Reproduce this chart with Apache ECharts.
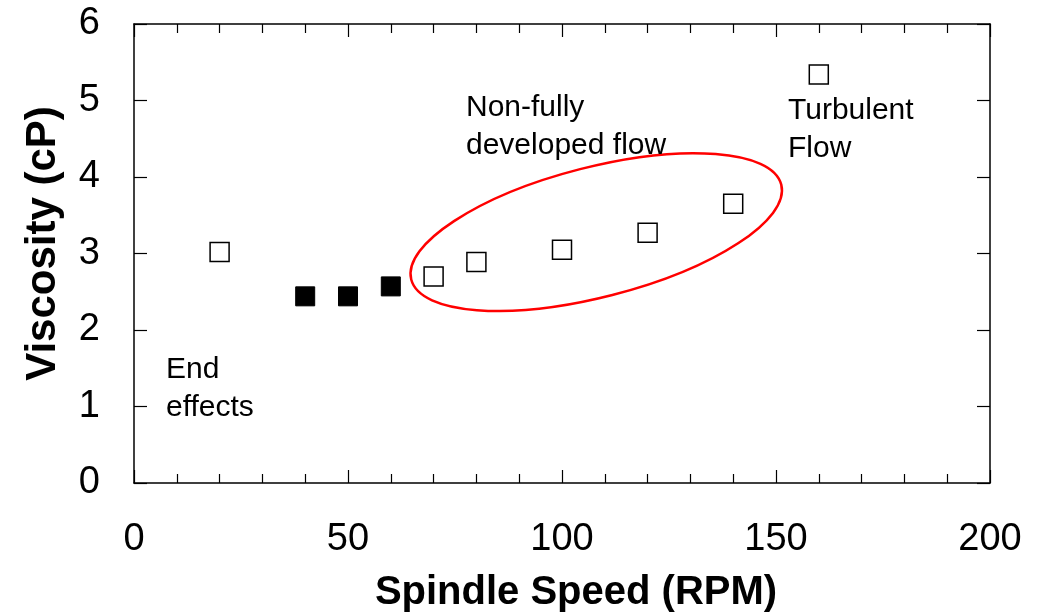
<!DOCTYPE html>
<html>
<head>
<meta charset="utf-8">
<script src="https://cdn.jsdelivr.net/npm/echarts@6/dist/echarts.min.js"></script>
<style>
html,body{margin:0;padding:0;background:#fff;}
#chart{width:1053px;height:613px;}
</style>
</head>
<body>
<div id="chart"></div>
<script>
// Data
var openSpeeds = [20, 70, 80, 100, 120, 140, 160];
var openViscosity = [3.02, 2.70, 2.89, 3.05, 3.27, 3.65, 5.34];
var filledSpeeds = [40, 50, 60];
var filledViscosity = [2.44, 2.44, 2.57];
var xTicks = [0, 50, 100, 150, 200];
var yTicks = [0, 1, 2, 3, 4, 5, 6];
var xTitle = 'Spindle Speed (RPM)';
var yTitle = 'Viscosity (cP)';
var annotations = [
  { text: 'End\neffects', x: 166, y: 351 },
  { text: 'Non-fully\ndeveloped flow', x: 466, y: 89 },
  { text: 'Turbulent\nFlow', x: 788, y: 92 }
];
// ellipse enclosing the non-fully developed flow region (center in data coords)
var ellipseCenter = [108, 3.28];

function pairs(xs, ys) { return xs.map(function (x, i) { return [x, ys[i]]; }); }

var FONT = '"Liberation Sans", Arial, Helvetica, sans-serif';
var chart = echarts.init(document.getElementById('chart'), null, { renderer: 'canvas' });

var axisLine = { show: true, onZero: false, lineStyle: { color: '#000', width: 1.5 } };
var tickStyle = { color: '#000', width: 1.2 };

var option = {
  animation: false,
  backgroundColor: '#fff',
  grid: { left: 134, right: 63, top: 24, bottom: 130, show: false, containLabel: false, outerBoundsMode: 'none' },
  xAxis: [{
    type: 'value', min: xTicks[0], max: xTicks[xTicks.length - 1], interval: 50,
    position: 'bottom',
    axisLine: axisLine,
    axisTick: { show: true, inside: true, length: 13, lineStyle: tickStyle },
    minorTick: { show: true, splitNumber: 5, length: 9, lineStyle: tickStyle },
    splitLine: { show: false },
    axisLabel: { show: true, margin: 38, fontSize: 38, color: '#000', fontFamily: FONT },
    name: xTitle, nameLocation: 'middle', nameGap: 90,
    nameTextStyle: { fontSize: 40, fontWeight: 'bold', color: '#000', fontFamily: FONT, padding: [0, 0, 0, 28] }
  }, {
    type: 'value', min: xTicks[0], max: xTicks[xTicks.length - 1], interval: 50,
    position: 'top',
    axisLine: axisLine,
    axisTick: { show: true, inside: true, length: 13, lineStyle: tickStyle },
    minorTick: { show: true, splitNumber: 5, length: 9, lineStyle: tickStyle },
    splitLine: { show: false },
    axisLabel: { show: false }
  }],
  yAxis: [{
    type: 'value', min: yTicks[0], max: yTicks[yTicks.length - 1], interval: 1,
    position: 'left',
    axisLine: axisLine,
    axisTick: { show: true, inside: true, length: 13, lineStyle: tickStyle },
    splitLine: { show: false },
    axisLabel: { show: true, margin: 34, fontSize: 38, color: '#000', fontFamily: FONT },
    name: yTitle, nameLocation: 'middle', nameGap: 70, nameRotate: 90,
    nameTextStyle: { fontSize: 42, fontWeight: 'bold', color: '#000', fontFamily: FONT, padding: [0, 0, 0, 20] }
  }, {
    type: 'value', min: yTicks[0], max: yTicks[yTicks.length - 1], interval: 1,
    position: 'right',
    axisLine: axisLine,
    axisTick: { show: true, inside: true, length: 13, lineStyle: tickStyle },
    splitLine: { show: false },
    axisLabel: { show: false }
  }],
  series: [{
    name: 'open', type: 'scatter', xAxisIndex: 0, yAxisIndex: 0,
    symbol: 'rect', symbolSize: 19,
    itemStyle: { color: '#fff', borderColor: '#000', borderWidth: 1.5, opacity: 1 },
    data: pairs(openSpeeds, openViscosity), z: 5
  }, {
    name: 'filled', type: 'scatter', xAxisIndex: 0, yAxisIndex: 0,
    symbol: 'rect', symbolSize: 19,
    itemStyle: { color: '#000', borderColor: '#000', borderWidth: 1, opacity: 1 },
    data: pairs(filledSpeeds, filledViscosity), z: 5
  }]
};
chart.setOption(option);

var c = chart.convertToPixel({ gridIndex: 0 }, ellipseCenter);
var graphics = annotations.map(function (a) {
  return {
    type: 'text', left: a.x, top: a.y, z: 10,
    style: { text: a.text, font: '30px ' + FONT, fill: '#000', lineHeight: 38 }
  };
});
graphics.push({
  type: 'ellipse', x: c[0], y: c[1], rotation: 0.251, z: 8,
  shape: { cx: 0, cy: 0, rx: 191, ry: 65 },
  style: { fill: 'none', stroke: '#ff0000', lineWidth: 2.5 }
});
chart.setOption({ graphic: graphics });
</script>
</body>
</html>
